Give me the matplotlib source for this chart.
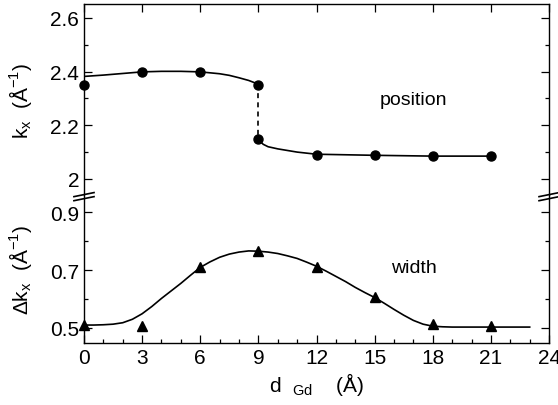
import matplotlib
matplotlib.use("Agg")
import matplotlib.pyplot as plt
from matplotlib.ticker import MultipleLocator, FixedLocator

plt.rcParams["font.family"] = ["Liberation Sans", "DejaVu Sans"]

# measured points: peak position k_x
d_pos = [0, 3, 6, 9, 9, 12, 15, 18, 21]
k_pos = [2.35, 2.40, 2.40, 2.35, 2.15, 2.09, 2.088, 2.085, 2.085]

# guide curve for position
curve_pos_hi_d = [0, 1, 2, 3, 4, 5, 6, 7, 7.5, 8, 8.5, 9]
curve_pos_hi_k = [2.382, 2.387, 2.393, 2.399, 2.401, 2.401, 2.399, 2.392, 2.386, 2.377, 2.367, 2.353]
curve_pos_jump_d = [9, 9]
curve_pos_jump_k = [2.353, 2.15]
curve_pos_lo_d = [9, 9.1, 9.25, 9.5, 10, 11, 12, 15, 18, 21]
curve_pos_lo_k = [2.15, 2.139, 2.129, 2.12, 2.112, 2.1, 2.092, 2.088, 2.085, 2.085]

# measured points: peak width Delta k_x
d_wid = [0, 3, 6, 9, 12, 15, 18, 21]
w_wid = [0.51, 0.505, 0.712, 0.765, 0.712, 0.608, 0.512, 0.508]

# guide curve for width
curve_wid_d = [0, 0.5, 1, 1.5, 2, 2.5, 3, 3.5, 4, 4.5, 5, 5.5, 6, 6.5, 7, 7.5, 8, 8.5, 9,
               9.5, 10, 10.5, 11, 11.5, 12, 12.5, 13, 13.5, 14, 14.5, 15, 15.5, 16, 16.5,
               17, 17.5, 18, 18.5, 19, 20, 21, 22, 23]
curve_wid_w = [0.51, 0.510, 0.511, 0.513, 0.518, 0.53, 0.549, 0.574, 0.602, 0.628, 0.654,
               0.682, 0.709, 0.728, 0.744, 0.755, 0.762, 0.766, 0.765, 0.762, 0.757, 0.749,
               0.74, 0.727, 0.713, 0.696, 0.678, 0.66, 0.64, 0.622, 0.605, 0.585, 0.564,
               0.544, 0.526, 0.513, 0.506, 0.504, 0.503, 0.503, 0.503, 0.503, 0.503]

x_ticks = [0, 3, 6, 9, 12, 15, 18, 21, 24]
pos_ticks = [2.0, 2.2, 2.4, 2.6]
pos_labels = ["2", "2.2", "2.4", "2.6"]
wid_ticks = [0.5, 0.7, 0.9]
wid_labels = ["0.5", "0.7", "0.9"]

fig = plt.figure(figsize=(5.58, 4.06), dpi=100)
left, right = 0.1505, 0.984
y_bot, y_mid, y_top = 0.1527, 0.5172, 0.9877
ax1 = fig.add_axes([left, y_mid, right - left, y_top - y_mid])
ax2 = fig.add_axes([left, y_bot, right - left, y_mid - y_bot])

ax1.plot(curve_pos_hi_d, curve_pos_hi_k, color="black", lw=1.2)
ax1.plot(curve_pos_jump_d, curve_pos_jump_k, color="black", lw=1.2, ls=(0, (3, 2.5)))
ax1.plot(curve_pos_lo_d, curve_pos_lo_k, color="black", lw=1.2)
ax1.plot(d_pos, k_pos, "o", color="black", ms=6.5, ls="none", clip_on=False, zorder=5)

ax2.plot(curve_wid_d, curve_wid_w, color="black", lw=1.2)
ax2.plot(d_wid, w_wid, "^", color="black", ms=6.5, ls="none", clip_on=False, zorder=5)

ax1.set_xlim(0, 24)
ax2.set_xlim(0, 24)
ax1.set_ylim(1.94, 2.652)
ax2.set_ylim(0.448, 0.959)

for ax in (ax1, ax2):
    ax.xaxis.set_major_locator(FixedLocator(x_ticks))
    ax.xaxis.set_minor_locator(MultipleLocator(1))
    ax.yaxis.set_minor_locator(MultipleLocator(0.1))
    ax.tick_params(which="both", direction="in", top=True, right=True, width=0.9)
    ax.tick_params(which="major", length=6, labelsize=15)
    ax.tick_params(which="minor", length=3)
    for s in ax.spines.values():
        s.set_linewidth(1.0)

ax1.spines["bottom"].set_visible(False)
ax2.spines["top"].set_visible(False)
ax1.tick_params(which="both", bottom=False, labelbottom=False)
ax1.tick_params(which="minor", top=False)
ax2.tick_params(which="both", top=False)

ax1.set_yticks(pos_ticks, pos_labels)
ax2.set_yticks(wid_ticks, wid_labels)
ax2.set_xticks(x_ticks, [str(v) for v in x_ticks])

ax1.set_ylabel("k$_\\mathregular{x}$  (Å$^\\mathregular{-1}$)", fontsize=15)
ax2.set_ylabel("Δk$_\\mathregular{x}$  (Å$^\\mathregular{-1}$)", fontsize=15)
ax1.yaxis.set_label_coords(-0.107, 0.5)
ax2.yaxis.set_label_coords(-0.107, 0.5)
ax2.set_xlabel("d  $_\\mathregular{Gd}$    (Å)", fontsize=15, labelpad=2)

ax1.text(17.0, 2.296, "position", fontsize=14, ha="center", va="center")
ax2.text(17.0, 0.707, "width", fontsize=14, ha="center", va="center")

# axis-break marks on both vertical spines
for xb in (0.0, 1.0):
    for dy in (0.0, -0.010):
        fig.lines.append(plt.Line2D(
            [left + (right - left) * xb - 0.018, left + (right - left) * xb + 0.018],
            [y_mid + dy - 0.004, y_mid + dy + 0.006],
            transform=fig.transFigure, color="black", lw=1.2))

fig.savefig("out.png", dpi=100)
